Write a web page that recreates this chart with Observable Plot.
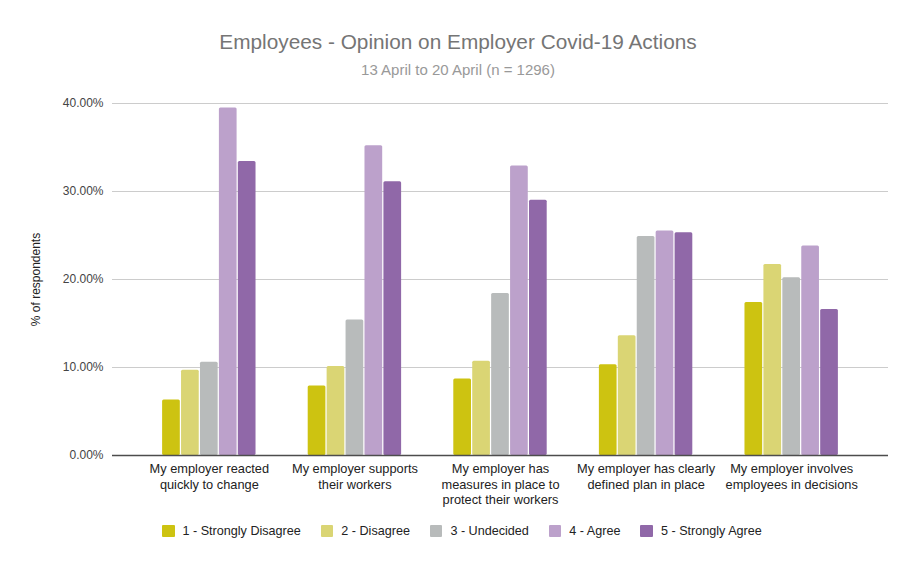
<!DOCTYPE html>
<html>
<head>
<meta charset="utf-8">
<script src="https://cdn.jsdelivr.net/npm/d3@7"></script>
<script src="https://cdn.jsdelivr.net/npm/@observablehq/plot@0.6"></script>
<style>
  html, body { margin: 0; padding: 0; background: #fff; }
  #wrap { position: relative; width: 916px; height: 566px; font-family: "Liberation Sans", Arial, sans-serif; }
  #header { position: relative; height: 80px; }
  #title { position: absolute; top: 30px; left: 0; width: 916px; text-align: center; font-size: 20.8px; line-height: 24px; color: #757575; }
  #subtitle { position: absolute; top: 62px; left: 0; width: 916px; text-align: center; font-size: 15px; line-height: 16px; color: #999; }
  #legend { display: flex; align-items: center; margin-top: 13px; padding-left: 162px; font-size: 12.6px; line-height: 16px; color: #222; }
  .item { display: flex; align-items: center; margin-right: 20px; }
  .sw { width: 12.5px; height: 12.5px; margin-right: 8px; border-radius: 1px; }
  svg { display: block; }
</style>
</head>
<body>
<div id="wrap">
  <div id="header">
    <div id="title">Employees - Opinion on Employer Covid-19 Actions</div>
    <div id="subtitle">13 April to 20 April (n = 1296)</div>
  </div>
  <div id="chart"></div>
  <div id="legend"></div>
</div>
<script>
const groups = [
  "My employer reacted\nquickly to change",
  "My employer supports\ntheir workers",
  "My employer has\nmeasures in place to\nprotect their workers",
  "My employer has clearly\ndefined plan in place",
  "My employer involves\nemployees in decisions"
];
const series = ["1 - Strongly Disagree", "2 - Disagree", "3 - Undecided", "4 - Agree", "5 - Strongly Agree"];
const colors = ["#cdc311", "#dad574", "#b8bbbb", "#bca1cb", "#9068a8"];

const stronglyDisagree = [6.3, 7.9, 8.7, 10.3, 17.4];
const disagree         = [9.7, 10.1, 10.7, 13.6, 21.7];
const undecided        = [10.6, 15.4, 18.4, 24.9, 20.2];
const agree            = [39.5, 35.2, 32.9, 25.5, 23.8];
const stronglyAgree    = [33.4, 31.1, 29.0, 25.3, 16.6];

const yTicks = [0, 10, 20, 30, 40];

const seriesValues = [stronglyDisagree, disagree, undecided, agree, stronglyAgree];
const table = [];
groups.forEach((g, gi) => {
  series.forEach((s, si) => {
    table.push({gi, si, group: g, series: s, value: seriesValues[si][gi]});
  });
});

// within-group layout (in group units)
const slot = 0.13, barW = 0.1216;

const chart = Plot.plot({
  width: 916,
  height: 430,
  marginTop: 23,
  marginBottom: 55,
  marginLeft: 112,
  marginRight: 28,
  style: {fontFamily: "'Liberation Sans', Arial, sans-serif", fontSize: "12px", background: "#fff"},
  x: {domain: [-0.665, groups.length - 1 + 0.665]},
  y: {domain: [0, 40]},
  color: {domain: series, range: colors},
  marks: [
    Plot.gridY(yTicks, {stroke: "#cccccc", strokeOpacity: 1, strokeWidth: 1}),
    Plot.rect(table, {
      x1: d => d.gi + (d.si - 2) * slot - barW / 2,
      x2: d => d.gi + (d.si - 2) * slot + barW / 2,
      y1: 0,
      y2: "value",
      fill: "series",
      rx: 1.5
    }),
    Plot.ruleY([0], {stroke: "#4d4d4d", strokeWidth: 1.6}),
    Plot.axisY({ticks: yTicks, tickFormat: d => d.toFixed(2) + "%", tickSize: 0, tickPadding: 9, label: null, fill: "#444"}),
    Plot.axisX({ticks: groups.map((g, i) => i), tickFormat: i => groups[i], tickSize: 0, tickPadding: 7, label: null, lineHeight: 1.2, fontSize: 12.8, fill: "#222"}),
    Plot.text(["% of respondents"], {frameAnchor: "left", textAnchor: "middle", rotate: -90, dx: -76, fill: "#222", fontSize: 12})
  ]
});
document.getElementById("chart").appendChild(chart);

const legend = document.getElementById("legend");
series.forEach((s, i) => {
  const item = document.createElement("div");
  item.className = "item";
  const sw = document.createElement("div");
  sw.className = "sw";
  sw.style.background = colors[i];
  const t = document.createElement("span");
  t.textContent = s;
  item.appendChild(sw);
  item.appendChild(t);
  legend.appendChild(item);
});
</script>
</body>
</html>
